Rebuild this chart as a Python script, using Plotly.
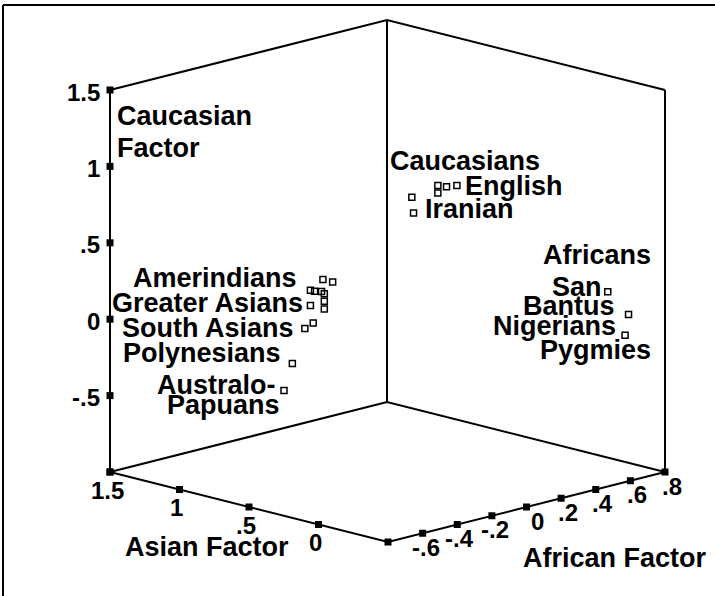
import plotly.graph_objects as go

# ---------------- data (African, Asian, Caucasian factor scores) ----------------
afr_range = [-0.8, 0.8]
asian_range = [-0.5, 1.5]
cauc_range = [-1.0, 1.5]

cauc_afr = [0.12, 0.06, 0.05, 0.05, -0.02, 0.03]
cauc_asian = [0.15, 0.15, 0.20, 0.20, 0.30, 0.35]
cauc_cauc = [0.92, 0.93, 0.93, 0.88, 0.85, 0.72]

africa_afr = [0.67, 0.75, 0.73]
africa_asian = [-0.25, -0.30, -0.30]
africa_cauc = [0.16, 0.00, -0.13]

asia_afr = [-0.10] * 13
asia_asian = [0.84, 0.77, 0.93, 0.90, 0.85, 0.83, 0.93, 0.83, 0.83, 0.97, 0.91, 1.06, 1.12]
asia_cauc = [0.21, 0.21, 0.12, 0.12, 0.13, 0.12, 0.02, 0.07, 0.02, -0.14, -0.09, -0.39, -0.58]

cauc_ticks = [1.5, 1, 0.5, 0, -0.5]
cauc_ticklabels = ["1.5", "1", ".5", "0", "-.5"]
asian_ticks = [1.5, 1, 0.5, 0]
asian_ticklabels = ["1.5", "1", ".5", "0"]
afr_ticks = [-0.6, -0.4, -0.2, 0, 0.2, 0.4, 0.6, 0.8]
afr_ticklabels = ["-.6", "-.4", "-.2", "0", ".2", ".4", ".6", ".8"]

# ---------------- oblique projection of the 3D box onto the page ----------------
ORIGIN = (388, 542)      # front-bottom corner of the box (pixels)
V_AFR = (277, -70)       # full African range
V_ASIAN = (-278, -70)    # full Asian range
V_CAUC = (0, -382)       # full Caucasian range


def proj(af, asn, ca):
    u = (af - afr_range[0]) / (afr_range[1] - afr_range[0])
    v = (asn - asian_range[0]) / (asian_range[1] - asian_range[0])
    w = (ca - cauc_range[0]) / (cauc_range[1] - cauc_range[0])
    x = ORIGIN[0] + u * V_AFR[0] + v * V_ASIAN[0] + w * V_CAUC[0]
    y = ORIGIN[1] + u * V_AFR[1] + v * V_ASIAN[1] + w * V_CAUC[1]
    return x, y


def proj_many(afs, ass, cas):
    pts = [proj(a, b, c) for a, b, c in zip(afs, ass, cas)]
    return [p[0] for p in pts], [p[1] for p in pts]


a0, a1 = afr_range
s0, s1 = asian_range
c0, c1 = cauc_range
edges = [
    [(a0, s1, c0), (a0, s1, c1)],
    [(a1, s1, c0), (a1, s1, c1)],
    [(a1, s0, c0), (a1, s0, c1)],
    [(a0, s1, c1), (a1, s1, c1), (a1, s0, c1)],
    [(a0, s1, c0), (a1, s1, c0), (a1, s0, c0)],
    [(a0, s1, c0), (a0, s0, c0), (a1, s0, c0)],
]
ex, ey = [], []
for e in edges:
    for p in e:
        x, y = proj(*p)
        ex.append(x)
        ey.append(y)
    ex.append(None)
    ey.append(None)

fig = go.Figure()
fig.add_trace(go.Scatter(x=ex, y=ey, mode="lines", line=dict(color="black", width=2),
                         hoverinfo="skip", showlegend=False))

# tick squares
tx, ty = [], []
for t in cauc_ticks + [c0]:
    x, y = proj(a0, s1, t); tx.append(x); ty.append(y)
for t in asian_ticks + [s0]:
    x, y = proj(a0, t, c0); tx.append(x); ty.append(y)
for t in afr_ticks:
    x, y = proj(t, s0, c0); tx.append(x); ty.append(y)
fig.add_trace(go.Scatter(x=tx, y=ty, mode="markers",
                         marker=dict(symbol="square", size=7, color="black"),
                         hoverinfo="skip", showlegend=False))

# data points
for afs, ass, cas in [(cauc_afr, cauc_asian, cauc_cauc),
                      (africa_afr, africa_asian, africa_cauc),
                      (asia_afr, asia_asian, asia_cauc)]:
    px, py = proj_many(afs, ass, cas)
    fig.add_trace(go.Scatter(x=px, y=py, mode="markers",
                             marker=dict(symbol="square-open", size=6, color="black",
                                         line=dict(width=1.5, color="black")),
                             showlegend=False))

FONT = "Liberation Sans, Arial, sans-serif"
ann = []


def label(text, x, y, size=27, xanchor="left"):
    ann.append(dict(text="<b>%s</b>" % text, x=x, y=y, xref="x", yref="y",
                    xanchor=xanchor, yanchor="middle", showarrow=False,
                    borderpad=0, borderwidth=0,
                    font=dict(family=FONT, size=size, color="black")))


for t, lab in zip(cauc_ticks, cauc_ticklabels):
    x, y = proj(a0, s1, t)
    label(lab, x - 10, y + 2, size=24, xanchor="right")
for t, lab in zip(asian_ticks, asian_ticklabels):
    x, y = proj(a0, t, c0)
    label(lab, x - 3, y + 18, size=24, xanchor="center")
for t, lab in zip(afr_ticks, afr_ticklabels):
    x, y = proj(t, s0, c0)
    label(lab, x + 17, y + 14, size=24, xanchor="right")

# group / axis labels (layout positions)
text_labels = [
    ("Caucasian", 117, 116), ("Factor", 117, 148),
    ("Caucasians", 390, 161), ("English", 465, 186), ("Iranian", 425, 209),
    ("Africans", 543, 255), ("San", 552, 287), ("Bantus", 523, 306),
    ("Nigerians", 493, 326), ("Pygmies", 540, 350),
    ("Amerindians", 133, 278), ("Greater Asians", 112, 303),
    ("South Asians", 122, 328), ("Polynesians", 123, 353),
    ("Australo-", 157, 385), ("Papuans", 167, 405),
    ("Asian Factor", 125, 547), ("African Factor", 523, 558),
]
for t, x, y in text_labels:
    label(t, x, y)

fig.update_layout(
    width=715, height=596,
    margin=dict(l=0, r=0, t=0, b=0),
    paper_bgcolor="white", plot_bgcolor="white",
    xaxis=dict(range=[0, 715], visible=False, fixedrange=True),
    yaxis=dict(range=[596, 0], visible=False, fixedrange=True),
    annotations=ann,
    shapes=[dict(type="line", xref="x", yref="y", x0=3, y0=5, x1=716, y1=5,
                 line=dict(color="black", width=2)),
            dict(type="line", xref="x", yref="y", x0=3, y0=5, x1=3, y1=597,
                 line=dict(color="black", width=2))],
    showlegend=False,
)

fig.write_html("out.html", config={"displayModeBar": False},
               post_script="document.body.style.margin='0px';document.body.style.overflow='hidden';")
